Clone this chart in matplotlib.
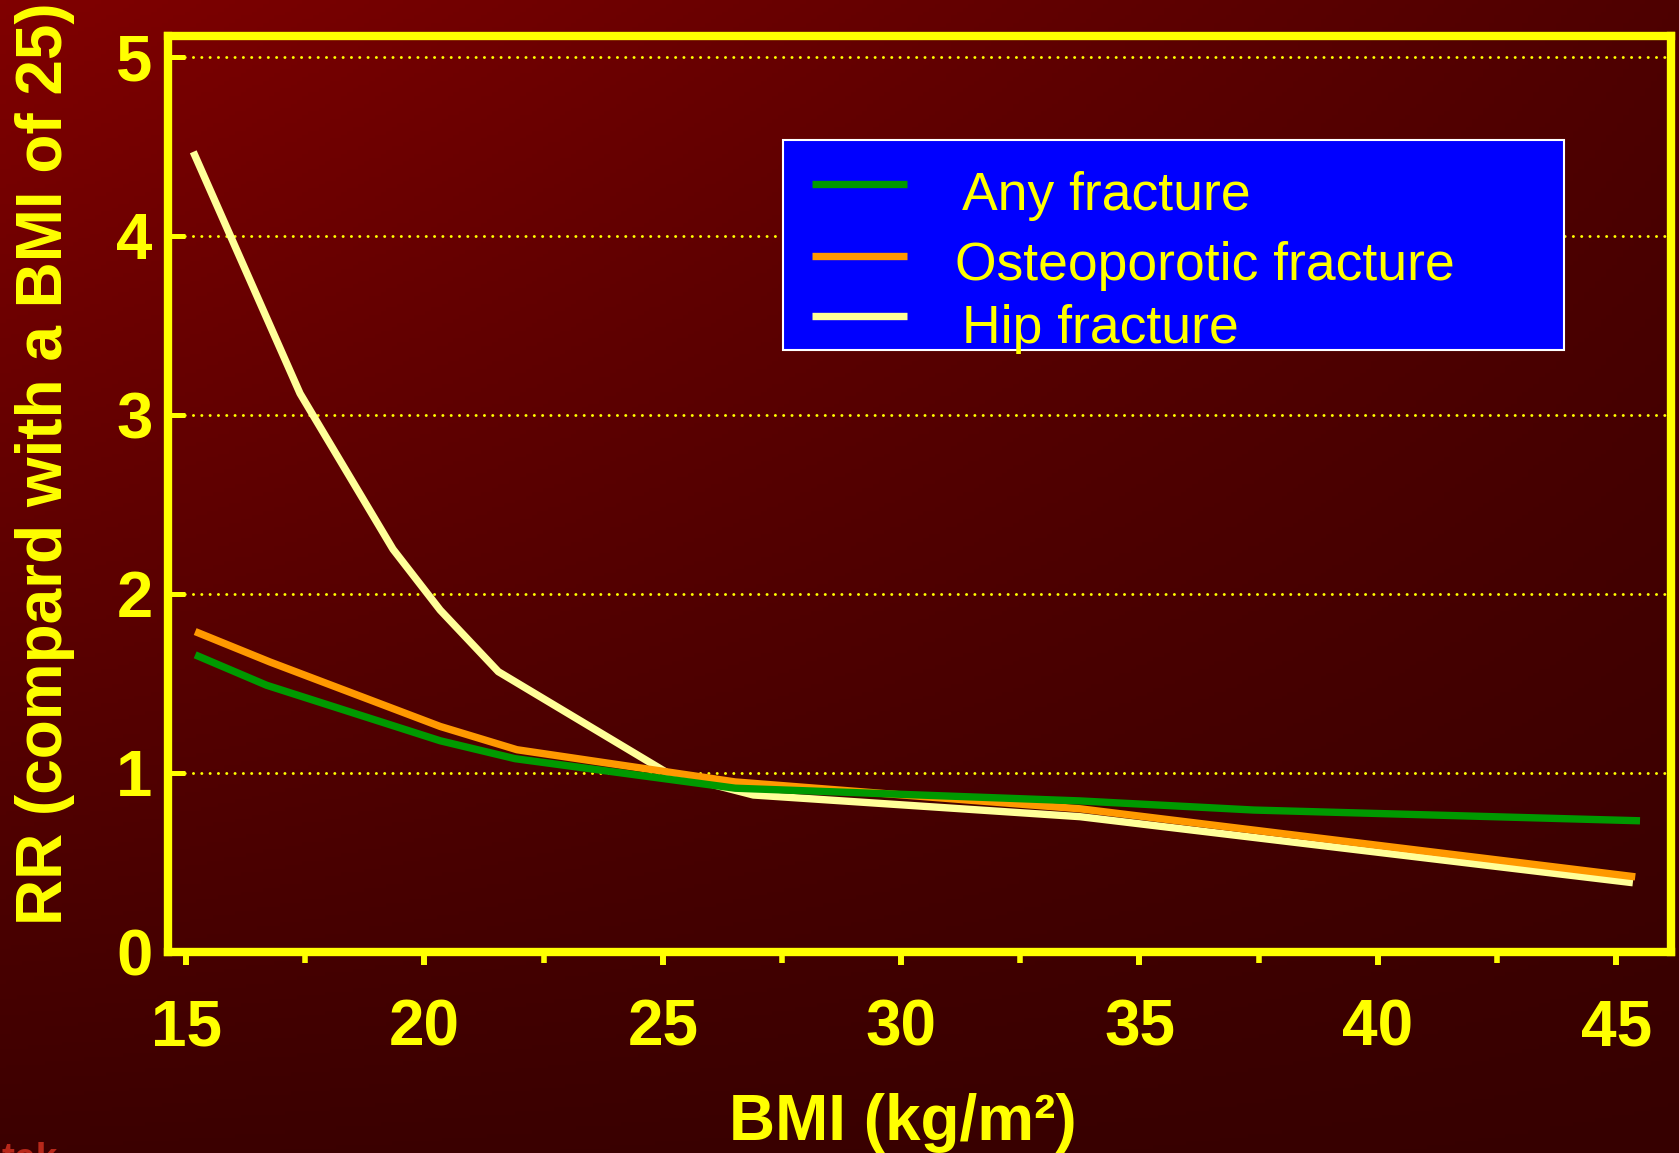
import numpy as np
import matplotlib
matplotlib.use("Agg")
import matplotlib.pyplot as plt
from matplotlib.patches import Rectangle
from matplotlib.lines import Line2D

plt.rcParams['font.family'] = ['Liberation Sans', 'DejaVu Sans']

# Relative risk of fracture by BMI (reference BMI = 25)
bmi_any = [15.19, 16.69, 20.33, 21.9, 26.52, 33.75, 37.4, 45.5]
rr_any = [1.66, 1.49, 1.18, 1.08, 0.915, 0.844, 0.793, 0.733]

bmi_osteo = [15.19, 16.76, 20.33, 21.94, 26.52, 33.75, 45.4]
rr_osteo = [1.79, 1.62, 1.26, 1.13, 0.95, 0.80, 0.42]

bmi_hip = [15.15, 17.39, 19.34, 20.33, 21.55, 25.1, 26.9, 33.75, 45.35]
rr_hip = [4.47, 3.12, 2.25, 1.91, 1.566, 1.0, 0.877, 0.756, 0.387]

series_labels = ['Any fracture', 'Osteoporotic fracture', 'Hip fracture']
series_colors = ['#009900', '#ff9900', '#ffff99']
x_ticks = [15, 20, 25, 30, 35, 40, 45]
x_minor = [17.5, 22.5, 27.5, 32.5, 37.5, 42.5]
y_ticks = [0, 1, 2, 3, 4, 5]

YEL = '#ffff00'
W, H = 1679, 1153
fig = plt.figure(figsize=(W / 100, H / 100), dpi=100)

# dark red gradient backdrop
bg = fig.add_axes([0, 0, 1, 1], zorder=-10)
bg.set_axis_off()
U, V = np.meshgrid(np.linspace(0, 1, 300), np.linspace(0, 1, 300))
TL, TR, BL, BR = 0x80, 0x4e, 0x3c, 0x36
R = TL * (1 - U) * (1 - V) + TR * U * (1 - V) + BL * (1 - U) * V + BR * U * V
img = np.zeros((300, 300, 3))
img[..., 0] = R / 255.0
bg.imshow(img, extent=[0, 1, 0, 1], aspect='auto', origin='upper')
bg.set_xlim(0, 1)
bg.set_ylim(0, 1)

def fx(px):
    return px / W

def fy(py):
    return 1 - py / H

ax = fig.add_axes([fx(168), fy(952), (1671 - 168) / W, (952 - 36) / H])
ax.set_facecolor('none')
ax.set_xlim(14.62, 46.15)
ax.set_ylim(0, 5.117)

for sp in ax.spines.values():
    sp.set_color(YEL)
    sp.set_linewidth(6)

ax.set_xticks(x_ticks)
ax.set_xticks(x_minor, minor=True)
ax.set_yticks(y_ticks)
ax.set_xticklabels([str(t) for t in x_ticks])
ax.set_yticklabels([str(t) for t in y_ticks])
ax.tick_params(axis='x', which='major', direction='out', length=9.4, width=4.3,
               color=YEL, labelcolor=YEL, labelsize=46, pad=24)
ax.tick_params(axis='x', which='minor', direction='out', length=8, width=4.0, color=YEL)
ax.tick_params(axis='y', which='major', direction='in', length=12, width=3.6,
               color=YEL, labelcolor=YEL, labelsize=47, pad=11)
for lab in ax.get_xticklabels() + ax.get_yticklabels():
    lab.set_fontweight('bold')

# dotted horizontal gridlines
ax.yaxis.grid(True, color=YEL, linewidth=2.1, linestyle=(0, (0.05, 2.8)),
              dash_capstyle='round')
ax.set_axisbelow(True)

ax.plot(bmi_hip, rr_hip, color=series_colors[2], lw=5.3, solid_capstyle='butt', zorder=3)
ax.plot(bmi_osteo, rr_osteo, color=series_colors[1], lw=5.3, solid_capstyle='butt', zorder=4)
ax.plot(bmi_any, rr_any, color=series_colors[0], lw=5.3, solid_capstyle='butt', zorder=5)

# legend box
fig.add_artist(Rectangle((fx(783), fy(350)), (1564 - 783) / W, (350 - 140) / H,
                         transform=fig.transFigure, facecolor='#0000ff',
                         edgecolor='white', linewidth=1.5, zorder=6))
handle_y = [184, 256, 316]
text_x = [962, 955, 962]
text_base = [210, 280, 343]
for lbl, col, hy, tx, tb in zip(series_labels, series_colors, handle_y, text_x, text_base):
    fig.add_artist(Line2D([fx(812), fx(907)], [fy(hy), fy(hy)], transform=fig.transFigure,
                          color=col, lw=5.3, solid_capstyle='butt', zorder=7))
    fig.text(fx(tx), fy(tb), lbl, color=YEL, fontsize=38.5, ha='left', va='baseline', zorder=7)

fig.text(fx(903), fy(1140), 'BMI (kg/m²)', color=YEL, fontsize=46, fontweight='bold',
         ha='center', va='baseline')
fig.text(fx(45), fy(464), 'RR (compard with a BMI of 25)', color=YEL, fontsize=46,
         fontweight='bold', rotation=90, ha='center', va='center')

fig.text(0.001, fy(1170), 'tek', color='#b8281a', fontsize=28, fontweight='bold',
         ha='left', va='baseline')

fig.savefig('out.png', dpi=100)
